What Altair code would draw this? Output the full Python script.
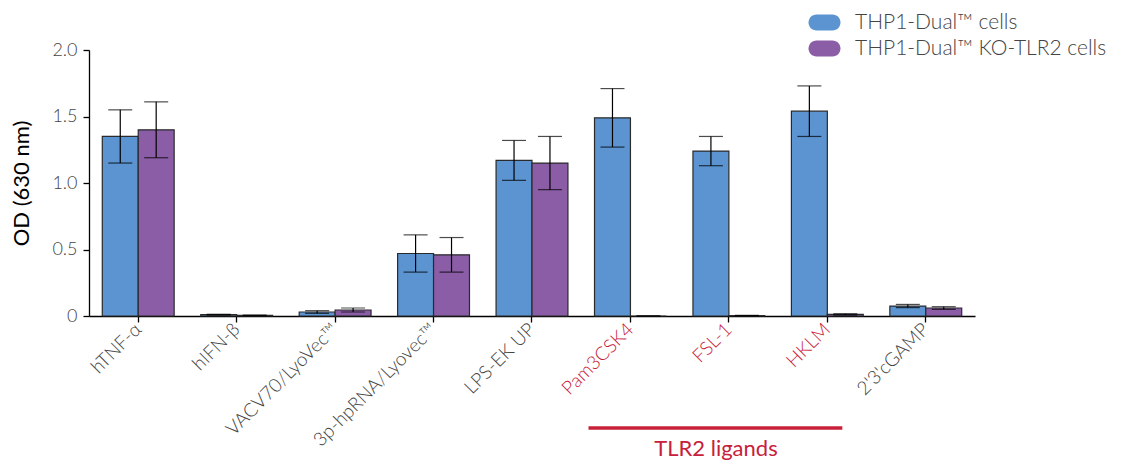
import altair as alt
import pandas as pd

categories = ["hTNF-α", "hIFN-β", "VACV70/LyoVec™", "3p-hpRNA/Lyovec™", "LPS-EK UP",
              "Pam3CSK4", "FSL-1", "HKLM", "2'3'cGAMP"]
series = ["THP1-Dual™ cells", "THP1-Dual™ KO-TLR2 cells"]
wt_mean = [1.35, 0.01, 0.03, 0.47, 1.17, 1.49, 1.24, 1.54, 0.075]
wt_err = [0.20, 0.003, 0.01, 0.14, 0.15, 0.22, 0.11, 0.19, 0.012]
ko_mean = [1.40, 0.005, 0.045, 0.46, 1.15, 0.0, 0.003, 0.012, 0.06]
ko_err = [0.21, 0.002, 0.015, 0.13, 0.20, 0.0, 0.002, 0.005, 0.01]
tlr2_ligands = ["Pam3CSK4", "FSL-1", "HKLM"]
group_label = "TLR2 ligands"
colors = ["#5B94D0", "#8B5DA6"]
red = "#C8203A"

rows = []
for s, means, errs in [(series[0], wt_mean, wt_err), (series[1], ko_mean, ko_err)]:
    for c, m, e in zip(categories, means, errs):
        rows.append({"category": c, "series": s, "mean": m,
                     "lo": max(m - e, 0), "hi": m + e})
df = pd.DataFrame(rows)

FONT = "Lato"
xscale = alt.Scale(domain=categories, paddingInner=0.27, paddingOuter=0.135)
xaxis = alt.Axis(
    title=None, labelAngle=-45, labelAlign="right", labelBaseline="middle",
    labelFontSize=19, labelFont=FONT, labelFontWeight=300,
    labelColor={"expr": "indexof(['Pam3CSK4','FSL-1','HKLM'], datum.label) >= 0 ? '%s' : '#444444'" % red},
    domainColor="black", domainWidth=1.3, tickColor="black", tickSize=6, tickWidth=1.3,
    labelPadding=4, labelLimit=400,
)
yaxis = alt.Axis(
    title="OD (630 nm)", values=[0, 0.5, 1.0, 1.5, 2.0],
    labelExpr="datum.value == 0 ? '0' : format(datum.value, '.1f')",
    labelFontSize=18, labelFont=FONT, labelFontWeight=300, labelColor="#444444",
    domainColor="black", domainWidth=1.3, tickColor="black", tickSize=6, tickWidth=1.3,
    labelPadding=6, grid=False,
    titleFont=FONT, titleFontSize=22, titleFontWeight="normal", titleColor="black",
    titleX=-68, titleY=133, titleAngle=-90, titleBaseline="middle", titleAlign="center",
)
yscale = alt.Scale(domain=[0, 2], nice=False)

x = alt.X("category:N", sort=categories, scale=xscale, axis=xaxis)
xoff = alt.XOffset("series:N", sort=series, scale=alt.Scale(domain=series, paddingInner=0, paddingOuter=0))

# pill shape twice as wide as the nominal symbol box
pill = "M-1,-1L1,-1A1,1,0,0,1,1,1L-1,1A1,1,0,0,1,-1,-1Z"

bars = alt.Chart(df).mark_bar(stroke="#2a2a2a", strokeWidth=1.2).encode(
    x=x, xOffset=xoff,
    y=alt.Y("mean:Q", scale=yscale, axis=yaxis),
    color=alt.Color("series:N", sort=series,
                    scale=alt.Scale(domain=series, range=colors),
                    legend=alt.Legend(title=None, orient="none", legendX=725, legendY=-38,
                                      symbolType=pill, symbolSize=256, symbolStrokeWidth=0,
                                      labelFontSize=21, labelFont=FONT, labelFontWeight=300,
                                      labelColor="#444444", labelOffset=20, rowPadding=4,
                                      labelLimit=400, padding=0)),
)

err = alt.Chart(df).mark_rule(color="black", strokeWidth=1.2).encode(
    x=x, xOffset=xoff, y=alt.Y("lo:Q", scale=yscale), y2="hi:Q")
cap_lo = alt.Chart(df).mark_tick(color="black", size=24, thickness=1.2).encode(
    x=x, xOffset=xoff, y=alt.Y("lo:Q", scale=yscale))
cap_hi = alt.Chart(df).mark_tick(color="black", size=24, thickness=1.2).encode(
    x=x, xOffset=xoff, y=alt.Y("hi:Q", scale=yscale))

ann = pd.DataFrame({"start": [tlr2_ligands[0]], "end": [tlr2_ligands[-1]],
                    "mid": [tlr2_ligands[1]], "label": [group_label]})
line = alt.Chart(ann).mark_rule(color=red, strokeWidth=3.5, xOffset=-6, x2Offset=15).encode(
    x=alt.X("start:N", sort=categories, scale=xscale, bandPosition=0),
    x2=alt.X2("end:N"),
    y=alt.value(378),
)
text = alt.Chart(ann).mark_text(color=red, fontSize=22, font=FONT, align="center",
                                baseline="alphabetic").encode(
    x=alt.X("mid:N", sort=categories, scale=xscale, bandPosition=0.32),
    y=alt.value(406),
    text="label:N",
)

chart = alt.layer(bars, err, cap_lo, cap_hi, line, text).properties(
    width=886, height=266,
    padding={"left": 81, "top": 42, "right": 143, "bottom": 144},
    autosize=alt.AutoSizeParams(type="none"),
).configure_view(stroke=None)

chart.save("out.html", embed_options={"renderer": "svg", "actions": False})
